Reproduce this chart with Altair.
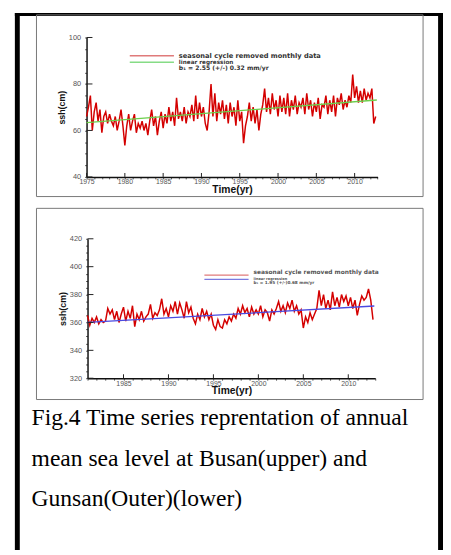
import altair as alt
import pandas as pd

# ---------------- values ----------------
# Busan (upper): seasonal-cycle-removed sea level, cm, 4 readings per year from 1975.0
busan_start = 1975.0
busan_ssh = [
    66, 70, 75, 60,   # 1975
    68, 72, 64, 69,   # 1976
    59, 66, 68, 63,   # 1977
    67, 64, 62, 66,   # 1978
    60, 64, 69, 62,   # 1979
    53.5, 62, 67, 60, # 1980
    64, 67, 59, 63,   # 1981
    61, 64, 60, 63,   # 1982
    58, 64, 69, 62,   # 1983
    66, 58, 64, 68,   # 1984
    61, 67, 63, 70,   # 1985
    64, 68, 62, 74,   # 1986
    65, 68, 64, 70,   # 1987
    63, 68, 66, 71,   # 1988
    64, 75, 65, 72,   # 1989
    66, 70, 63, 60,   # 1990
    68, 80, 66, 76,   # 1991
    64, 72, 67, 73,   # 1992
    65, 71, 63, 72,   # 1993
    66, 70, 62, 73,   # 1994
    64, 68, 54.5, 62, # 1995
    66, 72, 64, 70,   # 1996
    63, 69, 60, 67,   # 1997
    71, 78, 68, 74,   # 1998
    67, 76, 69, 73,   # 1999
    66, 75, 68, 74,   # 2000
    67, 76, 66, 73,   # 2001
    69, 75, 67, 72,   # 2002
    70, 74, 67, 76,   # 2003
    69, 73, 66, 72,   # 2004
    68, 74, 65, 71,   # 2005
    70, 75, 67, 73,   # 2006
    68, 75, 66, 74,   # 2007
    71, 76, 69, 73,   # 2008
    70, 75, 72, 84,   # 2009
    74, 79, 72, 77,   # 2010
    72, 78, 73, 76,   # 2011
    74, 78, 63, 66,   # 2012
]
busan_fit_t = [1975.0, 2012.9]
busan_fit_v = [63.4, 73.1]

# Gunsan(Outer) (lower): cm, 4 readings per year from 1981.0
gunsan_start = 1981.0
gunsan_ssh = [
    365, 358, 363, 360,  # 1981
    364, 359, 362, 360,  # 1982
    361, 370, 366, 369,  # 1983
    362, 368, 360, 366,  # 1984
    371, 361, 368, 363,  # 1985
    372, 357, 366, 362,  # 1986
    368, 361, 364, 366,  # 1987
    373, 363, 367, 365,  # 1988
    369, 377, 366, 370,  # 1989
    364, 372, 368, 375,  # 1990
    366, 374, 369, 363,  # 1991
    375, 367, 371, 363,  # 1992
    359, 366, 362, 370,  # 1993
    364, 368, 362, 366,  # 1994
    358, 355, 362, 357,  # 1995
    356, 362, 359, 364,  # 1996
    361, 366, 363, 370,  # 1997
    366, 372, 367, 370,  # 1998
    364, 371, 366, 369,  # 1999
    366, 372, 364, 369,  # 2000
    367, 361, 369, 366,  # 2001
    370, 375, 368, 372,  # 2002
    367, 374, 370, 376,  # 2003
    368, 372, 366, 369,  # 2004
    356, 364, 360, 367,  # 2005
    362, 366, 370, 383,  # 2006
    372, 380, 370, 376,  # 2007
    369, 382, 372, 378,  # 2008
    371, 380, 375, 379,  # 2009
    372, 378, 370, 376,  # 2010
    365, 373, 379, 376,  # 2011
    378, 384, 376, 362,  # 2012
]
gunsan_fit_t = [1981.0, 2012.9]
gunsan_fit_v = [360.0, 371.8]

busan_years = list(range(1975, 2014))
busan_major_years = list(range(1975, 2011, 5))
busan_yvals = list(range(40, 101, 5))
busan_major_y = [40, 60, 80, 100]

gunsan_years = list(range(1981, 2014))
gunsan_major_years = list(range(1985, 2011, 5))
gunsan_yvals = list(range(320, 421, 5))
gunsan_major_y = [320, 340, 360, 380, 400, 420]

caption = [
    "Fig.4 Time series reprentation of annual",
    "mean sea level at Busan(upper) and",
    "Gunsan(Outer)(lower)",
]
legend_upper = ["seasonal cycle removed monthly data", "linear regression",
                "b\u2081 = 2.55 (+/-) 0.32 mm/yr"]
legend_lower = ["seasonal cycle removed monthly data", "linear regression",
                "b\u2081 = 1.95 (+/-)0.68 mm/yr"]

# ---------------- layout ----------------
W, H = 443, 547
SANS = "Liberation Sans"
LEG = "DejaVu Sans"
SERIF = "Liberation Serif"


def x_axis(values, offset):
    return alt.Axis(orient="bottom", offset=offset, values=values, format="d",
                    labelExpr="datum.value % 5 == 0 ? datum.label : ''",
                    tickSize=2, tickColor="#333", tickWidth=0.8,
                    domainColor="#111", domainWidth=1.5,
                    labelFont=SANS, labelFontSize=7, labelColor="#555",
                    labelPadding=-1, labelOverlap=False, labelFlush=False,
                    title="Time(yr)", titleFont=SANS, titleFontSize=10.5,
                    titleFontWeight="bold", titleColor="#111", titlePadding=0,
                    grid=False)


def y_axis(values, offset):
    return alt.Axis(orient="left", offset=offset, values=values, format="d",
                    labelExpr="datum.value % 20 == 0 ? datum.label : ''",
                    tickSize=2, tickColor="#333", tickWidth=0.8,
                    domainColor="#111", domainWidth=1.5,
                    labelFont=SANS, labelFontSize=7.5, labelColor="#555",
                    labelPadding=4, labelOverlap=False, labelFlush=False,
                    title="ssh(cm)", titleFont=SANS, titleFontSize=9,
                    titleFontWeight="bold", titleColor="#111", titlePadding=2,
                    grid=False)


def panel(start, vals, fit_t, fit_v, xdom, xrng, ydom, yrng, years, major_years,
          yvals, major_y, xoff, yoff, fit_color):
    XS = alt.Scale(domain=xdom, range=xrng, nice=False, zero=False)
    YS = alt.Scale(domain=ydom, range=yrng, nice=False, zero=False)
    XA = x_axis(years, xoff)
    YA = y_axis(yvals, yoff)
    df = pd.DataFrame({"t": [start + i / 4 for i in range(len(vals))], "v": vals})
    fit = pd.DataFrame({"t": fit_t, "v": fit_v})
    unit_y = (ydom[1] - ydom[0]) / abs(yrng[0] - yrng[1])
    unit_x = (xdom[1] - xdom[0]) / abs(xrng[1] - xrng[0])
    red = alt.Chart(df).mark_line(color="#d40000", strokeWidth=1.5).encode(
        x=alt.X("t:Q", scale=XS, axis=XA), y=alt.Y("v:Q", scale=YS, axis=YA))
    reg = alt.Chart(fit).mark_line(color=fit_color, strokeWidth=1.3).encode(
        x=alt.X("t:Q", scale=XS, axis=XA), y=alt.Y("v:Q", scale=YS, axis=YA))
    xt = alt.Chart(pd.DataFrame({"t": major_years})).mark_rule(
        color="#222", strokeWidth=1).encode(
        x=alt.X("t:Q", scale=XS, axis=XA),
        y=alt.Y(datum=ydom[0], scale=YS, axis=YA),
        y2=alt.Y2(datum=ydom[0] + 4 * unit_y))
    yt = alt.Chart(pd.DataFrame({"v": major_y})).mark_rule(
        color="#222", strokeWidth=1).encode(
        x=alt.X(datum=xdom[0], scale=XS, axis=XA),
        x2=alt.X2(datum=xdom[0] + 6 * unit_x),
        y=alt.Y("v:Q", scale=YS, axis=YA))
    return alt.layer(red, reg, xt, yt)


upper = panel(busan_start, busan_ssh, busan_fit_t, busan_fit_v,
              [1975, 2013], [80, 376.4], [40, 100], [167, 25],
              busan_years, busan_major_years, busan_yvals, busan_major_y,
              167 - H, -80, "#6ccf4c")
lower = panel(gunsan_start, gunsan_ssh, gunsan_fit_t, gunsan_fit_v,
              [1981, 2013], [81, 374], [320, 420], [372, 230],
              gunsan_years, gunsan_major_years, gunsan_yvals, gunsan_major_y,
              372 - H, -81, "#4a4ae0")

one = pd.DataFrame({"a": [0]})


def rect(x, x2, y, y2, **kw):
    return alt.Chart(one).mark_rect(**kw).encode(
        x=alt.value(x), x2=alt.value(x2), y=alt.value(y), y2=alt.value(y2))


def hline(x, x2, y, color, w):
    return alt.Chart(one).mark_rule(color=color, strokeWidth=w).encode(
        x=alt.value(x), x2=alt.value(x2), y=alt.value(y))


def label(txt, x, y, size, color="#333", weight="bold", font=LEG):
    return alt.Chart(one).mark_text(text=txt, align="left", baseline="middle",
                                    font=font, fontSize=size, fontWeight=weight,
                                    color=color).encode(x=alt.value(x), y=alt.value(y))


deco = [
    rect(7, 12, 0, H, color="black"),
    rect(7, W, 0, 3, color="black"),
    rect(438, W, 0, H, color="black"),
    rect(29, 422.7, 2, 187, fill="transparent", stroke="#777", strokeWidth=1),
    rect(29, 422.7, 199, 393.7, fill="transparent", stroke="#777", strokeWidth=1),
    hline(124, 169, 43.5, "#e07a7a", 1.5),
    hline(124, 169, 50.3, "#86dc86", 1.5),
    label(legend_upper[0], 174, 43.6, 6.8),
    label(legend_upper[1], 174, 50.0, 5.8),
    label(legend_upper[2], 174, 56.3, 6.2),
    hline(200, 245, 267, "#e07a7a", 1.3),
    hline(200, 245, 271.3, "#7a7ae0", 1.3),
    label(legend_lower[0], 250, 264.3, 6, color="#555"),
    label(legend_lower[1], 250, 270.6, 3.6, color="#555"),
    label(legend_lower[2], 250, 274.6, 4.3, color="#555"),
]
for i, line in enumerate(caption):
    deco.append(alt.Chart(one).mark_text(
        text=line, align="left", baseline="alphabetic", font=SERIF,
        fontSize=24, color="black").encode(x=alt.value(24), y=alt.value(420 + 41 * i)))

chart = alt.layer(upper, lower, *deco).resolve_scale(
    x="independent", y="independent"
).properties(
    width=W, height=H, padding=0, background="white",
    autosize=alt.AutoSizeParams(type="none"),
).configure_view(stroke=None)

chart.save("out.html", embed_options={"renderer": "svg", "actions": False})
